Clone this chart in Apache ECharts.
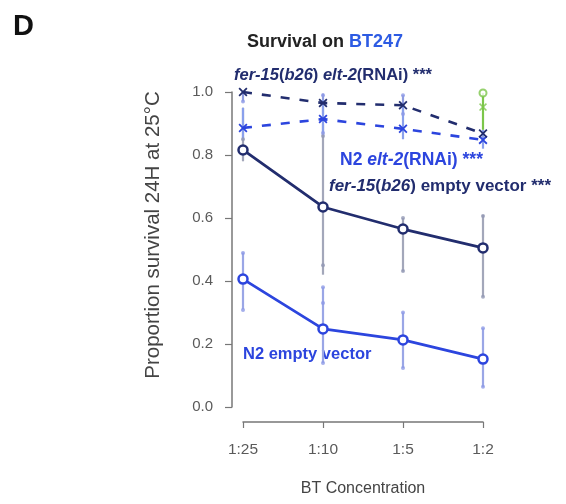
<!DOCTYPE html>
<html>
<head>
<meta charset="utf-8">
<script src="https://cdn.jsdelivr.net/npm/echarts@6/dist/echarts.min.js"></script>
<style>html,body{margin:0;padding:0;background:#fff}#c{width:566px;height:504px}</style>
</head>
<body>
<div id="c"></div>
<script>
// ---- data ----
const categories = ['1:25', '1:10', '1:5', '1:2'];
const yTicks = [0, 0.2, 0.4, 0.6, 0.8, 1.0];

const ferElt2 = [1.0, 0.965, 0.958, 0.868];
const ferElt2Low = [0.97, 0.93, 0.93, 0.84];
const ferElt2High = [1.0, 0.995, 0.99, 0.88];

const n2Elt2 = [0.886, 0.914, 0.883, 0.848];
const n2Elt2Low = [0.85, 0.87, 0.85, 0.82];
const n2Elt2High = [0.95, 0.975, 0.96, 0.88];

const ferEmpty = [0.816, 0.635, 0.565, 0.505];
const ferEmptyLow = [0.78, 0.42, 0.43, 0.35];
const ferEmptyHigh = [0.95, 0.90, 0.60, 0.61];

const n2Empty = [0.406, 0.248, 0.213, 0.152];
const n2EmptyLow = [0.31, 0.14, 0.124, 0.064];
const n2EmptyHigh = [0.49, 0.38, 0.30, 0.25];

// replicate points: [categoryIndex, value]
const ferEmptyReps = [[0, 0.85], [1, 0.86], [1, 0.45], [2, 0.432], [2, 0.60], [3, 0.606], [3, 0.35]];
const n2EmptyReps = [[0, 0.489], [0, 0.308], [1, 0.38], [1, 0.33], [1, 0.14], [2, 0.30], [2, 0.124], [3, 0.25], [3, 0.064]];
const elt2Reps = [[0, 0.97], [1, 0.99], [1, 0.87], [2, 0.99], [2, 0.93]];

// green marks at 1:2
const greenLine = [[3, 0.88, 0.997]];
const greenCircle = [[3, 0.997]];
const greenX = [[3, 0.952]];

// ---- style ----
const NAVY = '#222d6e';
const BLUE = '#2c45de';
const GREEN = '#7cc64a';
const XPATH = 'path://M0,1.4L1.4,0L5,3.6L8.6,0L10,1.4L6.4,5L10,8.6L8.6,10L5,6.4L1.4,10L0,8.6L3.6,5Z';
const FONT = 'Liberation Sans, Arial, Helvetica, sans-serif';
const ANN = 16.5;

function toPts(arr) { return arr.map((v, i) => [i, v]); }
function errData(lo, hi) { return lo.map((v, i) => [i, v, hi[i]]); }
function errSeries(lo, hi, color) {
  return {
    type: 'custom', z: 1, silent: true,
    data: Array.isArray(lo[0]) ? lo : errData(lo, hi),
    renderItem: function (params, api) {
      const p1 = api.coord([api.value(0), api.value(1)]);
      const p2 = api.coord([api.value(0), api.value(2)]);
      return { type: 'line', shape: { x1: p1[0], y1: p1[1], x2: p2[0], y2: p2[1] },
        style: { stroke: color, lineWidth: 2.2 } };
    }
  };
}

const chart = echarts.init(document.getElementById('c'), null, { renderer: 'canvas' });

const italic = (c, s) => ({ fontStyle: 'italic', fontWeight: 'bold', fontSize: s || ANN, fill: c, color: c, fontFamily: FONT });
const normal = (c, s) => ({ fontWeight: 'bold', fontSize: s || ANN, fill: c, color: c, fontFamily: FONT });

chart.setOption({
  animation: false,
  backgroundColor: '#ffffff',
  textStyle: { fontFamily: FONT },
  title: [
    { text: 'D', left: 8, top: 7, textStyle: { fontSize: 29, fontWeight: 'bold', color: '#111', fontFamily: FONT } },
    { text: '{a|Survival on }{b|BT247}', left: 242, top: 28,
      textStyle: { rich: {
        a: { fontSize: 18, fontWeight: 'bold', color: '#222', fontFamily: FONT },
        b: { fontSize: 18, fontWeight: 'bold', color: '#2d5be3', fontFamily: FONT } } } }
  ],
  grid: { left: 243, right: 83, top: 92, bottom: 97 },
  xAxis: {
    type: 'value', min: 0, max: 3, interval: 1, offset: 15,
    splitLine: { show: false },
    axisLine: { show: true, onZero: false, lineStyle: { color: '#777', width: 1.5 } },
    axisTick: { show: true, length: 6, lineStyle: { color: '#777', width: 1.2 } },
    axisLabel: { margin: 20, fontSize: 15.5, color: '#5a5a5a', formatter: (v) => categories[v] || '' },
    name: 'BT Concentration', nameLocation: 'middle', nameGap: 59,
    nameTextStyle: { fontSize: 16, color: '#444' }
  },
  yAxis: {
    type: 'value', min: 0, max: 1, interval: 0.2, offset: 11,
    splitLine: { show: false },
    axisLine: { show: true, onZero: false, lineStyle: { color: '#777', width: 1.5 } },
    axisTick: { show: true, length: 7, lineStyle: { color: '#777', width: 1.2 } },
    axisLabel: { margin: 19, fontSize: 15, color: '#5a5a5a', formatter: (v) => v.toFixed(1) },
    name: 'Proportion survival 24H at 25°C', nameLocation: 'middle', nameGap: 68,
    nameTextStyle: { fontSize: 20.5, color: '#444', padding: [0, 0, 0, 29] }
  },
  series: [
    errSeries(ferEmptyLow, ferEmptyHigh, '#a3a7ba'),
    errSeries(n2EmptyLow, n2EmptyHigh, '#9aa6e6'),
    errSeries(ferElt2Low, ferElt2High, '#8f9ce0'),
    errSeries(n2Elt2Low, n2Elt2High, '#8aa0ec'),
    errSeries(greenLine, null, GREEN),
    { type: 'scatter', z: 2, data: ferEmptyReps, symbol: 'circle', symbolSize: 4, itemStyle: { color: '#9298b4' } },
    { type: 'scatter', z: 2, data: n2EmptyReps, symbol: 'circle', symbolSize: 4, itemStyle: { color: '#8d9ae6' } },
    { type: 'scatter', z: 2, data: elt2Reps, symbol: 'circle', symbolSize: 4, itemStyle: { color: '#8d9ae6' } },
    { type: 'scatter', z: 3, data: greenCircle, symbol: 'circle', symbolSize: 7,
      itemStyle: { color: '#fff', borderColor: GREEN, borderWidth: 2 } },
    { type: 'scatter', z: 3, data: greenX, symbol: XPATH, symbolSize: 8, itemStyle: { color: GREEN } },
    { name: 'fer-15(b26) empty vector', type: 'line', z: 5, data: toPts(ferEmpty),
      lineStyle: { color: NAVY, width: 2.8 }, symbol: 'circle', symbolSize: 9,
      itemStyle: { color: '#fff', borderColor: NAVY, borderWidth: 2.5 } },
    { name: 'N2 empty vector', type: 'line', z: 5, data: toPts(n2Empty),
      lineStyle: { color: BLUE, width: 2.8 }, symbol: 'circle', symbolSize: 9,
      itemStyle: { color: '#fff', borderColor: BLUE, borderWidth: 2.5 } },
    { name: 'N2 elt-2(RNAi)', type: 'line', z: 5, data: toPts(n2Elt2),
      lineStyle: { color: BLUE, width: 2.6, type: [9, 10] }, symbol: XPATH, symbolSize: 9,
      itemStyle: { color: BLUE } },
    { name: 'fer-15(b26) elt-2(RNAi)', type: 'line', z: 6, data: toPts(ferElt2),
      lineStyle: { color: NAVY, width: 2.6, type: [9, 10] }, symbol: XPATH, symbolSize: 9,
      itemStyle: { color: NAVY } }
  ],
  graphic: [
    { type: 'text', left: 234, top: 67, style: {
      text: '{i|fer-15}{n|(}{i|b26}{n|) }{i|elt-2}{n|(RNAi) ***}',
      rich: { i: italic(NAVY), n: normal(NAVY) } } },
    { type: 'text', left: 340, top: 151, style: {
      text: '{n|N2 }{i|elt-2}{n|(RNAi) ***}',
      rich: { i: italic(BLUE, 17.5), n: normal(BLUE, 17.5) } } },
    { type: 'text', left: 329, top: 178, style: {
      text: '{i|fer-15}{n|(}{i|b26}{n|) empty vector ***}',
      rich: { i: italic(NAVY, 17), n: normal(NAVY, 17) } } },
    { type: 'text', left: 243, top: 346, style: {
      text: '{n|N2 empty vector}',
      rich: { n: normal(BLUE) } } }
  ]
});
</script>
</body>
</html>
